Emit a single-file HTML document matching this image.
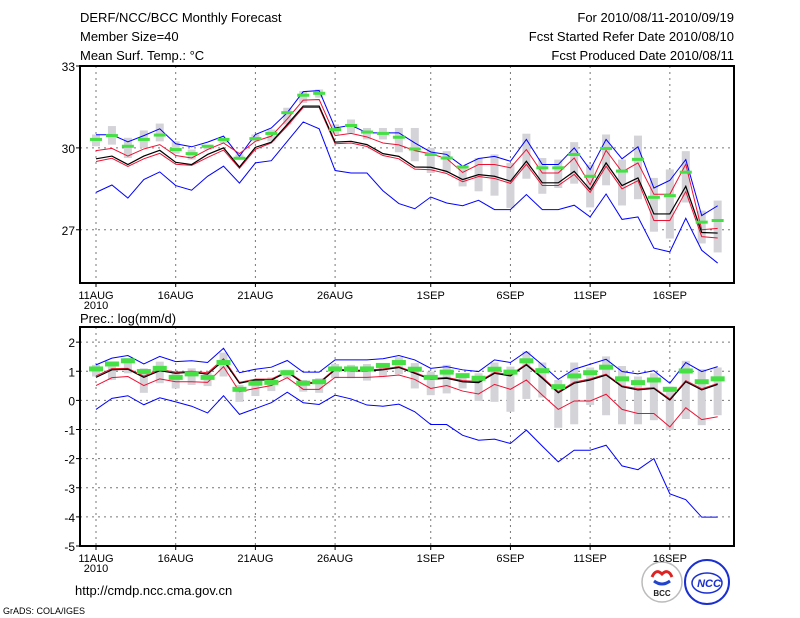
<!DOCTYPE html>
<html><head><meta charset="utf-8"><style>
body{margin:0;background:#fff;}
svg{display:block;font-family:"Liberation Sans",sans-serif;}
</style></head><body>
<svg id="chart" width="800" height="618" viewBox="0 0 800 618">
<g font-size="13" fill="#000">
<text x="80" y="22">DERF/NCC/BCC Monthly Forecast</text>
<text x="80" y="41">Member Size=40</text>
<text x="80" y="60">Mean Surf. Temp.: °C</text>
<text x="734" y="22" text-anchor="end">For 2010/08/11-2010/09/19</text>
<text x="734" y="41" text-anchor="end">Fcst Started Refer Date 2010/08/10</text>
<text x="734" y="60" text-anchor="end">Fcst Produced Date 2010/08/11</text>
<text x="80" y="323">Prec.: log(mm/d)</text>
<text x="75" y="595">http://cmdp.ncc.cma.gov.cn</text>
</g>
<text x="3" y="614" font-size="9">GrADS: COLA/IGES</text>
<g>
<circle cx="662" cy="582" r="20" fill="#fff" stroke="#bbb" stroke-width="1.5"/>
<path d="M652 577 q4 -9 10 -3 q6 -6 10 3" fill="none" stroke="#d22" stroke-width="3"/>
<path d="M654 581 q8 6 16 0" fill="none" stroke="#2244cc" stroke-width="3"/>
<text x="662" y="596" font-size="8" font-weight="bold" text-anchor="middle" fill="#222">BCC</text>
</g>
<g>
<circle cx="707" cy="582" r="22" fill="#fff" stroke="#1a2fd0" stroke-width="2"/>
<ellipse cx="707" cy="583" rx="15" ry="10" fill="none" stroke="#1a2fd0" stroke-width="1.5"/>
<text x="709" y="587" font-size="11" font-weight="bold" font-style="italic" text-anchor="middle" fill="#1a2fd0">NCC</text>
</g>
<g id="top"></g>
<g id="bot"></g>
</svg>
<script>
const dayLabels = ["11AUG","16AUG","21AUG","26AUG","1SEP","6SEP","11SEP","16SEP"];
const dayLabelIdx = [0,5,10,15,21,26,31,36];
const tTicks = [27,30,33];
const tMean = [29.60,29.70,29.39,29.70,29.91,29.47,29.39,29.76,30.00,29.30,30.02,30.21,30.86,31.53,31.53,30.21,30.24,30.12,29.79,29.69,29.30,29.29,29.14,28.84,29.02,28.96,28.78,29.51,28.72,28.72,29.14,28.47,29.45,28.62,28.90,27.58,27.58,28.59,26.90,26.88];
const tRedHi = [29.90,29.98,29.70,29.96,30.12,29.72,29.63,29.94,30.18,29.79,30.24,30.43,31.06,31.75,31.77,30.45,30.53,30.40,30.18,30.11,29.90,29.78,29.61,29.10,29.39,29.39,29.27,29.94,29.08,29.08,29.63,28.65,29.91,29.12,29.45,28.30,28.30,29.40,27.00,27.05];
const tRedLo = [29.50,29.62,29.32,29.60,29.80,29.40,29.36,29.65,29.92,29.25,29.95,30.18,30.80,31.48,31.48,30.15,30.18,30.05,29.72,29.60,29.22,29.20,29.06,28.76,28.95,28.88,28.70,29.40,28.62,28.62,29.03,28.37,29.33,28.50,28.80,27.34,27.34,28.40,26.75,26.70];
const tBlueHi = [30.48,30.48,30.22,30.45,30.70,30.15,30.04,30.21,30.43,29.69,30.49,30.73,31.29,32.06,32.10,30.73,30.83,30.55,30.55,30.55,30.18,29.85,29.76,29.33,29.61,29.69,29.51,30.31,29.39,29.39,30.00,29.20,30.31,29.60,30.04,28.53,28.81,29.57,27.52,27.88];
const tBlueLo = [28.37,28.64,28.16,28.84,29.12,28.62,28.45,28.96,29.33,28.71,29.45,29.53,30.24,30.95,30.70,29.17,29.08,29.08,28.43,27.96,27.77,28.20,27.98,27.88,28.08,27.74,27.74,28.29,27.74,27.74,27.90,27.47,28.31,27.38,27.47,26.33,26.19,27.42,26.25,25.78];
const tObs = [30.31,30.45,30.06,30.31,30.47,29.94,29.79,30.06,30.31,29.62,30.34,30.53,31.29,31.93,32.00,30.67,30.82,30.58,30.53,30.39,29.96,29.76,29.63,29.30,null,null,null,null,29.27,29.27,29.76,28.96,29.98,29.15,29.58,28.19,28.25,29.11,27.28,27.34];
const tBoxHi = [30.49,30.80,30.37,30.64,30.89,30.24,29.94,30.12,30.37,29.76,30.49,30.67,31.47,32.08,32.14,30.86,31.04,30.73,30.73,30.73,30.73,30.00,29.88,29.33,29.63,29.76,29.45,30.52,29.63,29.57,30.21,29.39,30.49,29.57,30.45,28.90,29.21,29.88,27.70,28.07];
const tBoxLo = [30.06,30.12,29.63,30.00,30.24,29.79,29.57,29.94,30.18,29.57,30.24,30.24,30.86,31.65,31.84,30.49,30.55,30.31,30.31,29.84,29.51,29.08,29.08,28.59,28.41,28.25,27.80,28.87,28.32,28.53,28.69,27.82,28.63,27.89,28.12,26.93,26.68,28.00,26.50,26.17];

const pTicks = [-5,-4,-3,-2,-1,0,1,2];
const pMean = [0.79,1.05,1.07,0.79,1.02,0.93,0.97,0.90,1.37,0.59,0.70,0.70,0.97,0.59,0.59,1.05,1.01,1.01,1.05,1.13,0.93,0.72,0.76,0.64,0.61,0.93,0.84,1.22,0.76,0.26,0.59,0.70,0.87,0.47,0.36,0.41,0.01,0.64,0.36,0.55];
const pRedHi = [0.84,1.09,1.10,0.83,1.06,0.97,1.00,0.95,1.43,0.62,0.73,0.73,1.00,0.62,0.62,1.08,1.04,1.04,1.08,1.16,0.96,0.75,0.79,0.68,0.65,0.96,0.88,1.25,0.80,0.30,0.63,0.74,0.90,0.50,0.40,0.44,0.05,0.68,0.40,0.58];
const pRedLo = [0.51,0.78,0.82,0.51,0.74,0.64,0.64,0.62,1.16,0.30,0.41,0.51,0.78,0.38,0.38,0.79,0.79,0.79,0.82,0.87,0.72,0.41,0.51,0.32,0.22,0.55,0.38,0.70,0.18,-0.31,-0.02,-0.02,0.21,-0.31,-0.45,-0.45,-0.91,-0.25,-0.66,-0.56];
const pBlueHi = [1.22,1.45,1.54,1.25,1.51,1.33,1.36,1.30,1.79,0.95,1.07,1.14,1.37,0.97,0.97,1.39,1.39,1.39,1.43,1.54,1.39,1.10,1.16,1.05,0.99,1.39,1.30,1.68,1.22,0.72,1.07,1.24,1.41,0.99,0.91,1.02,0.59,1.30,0.99,1.16];
const pBlueLo = [-0.31,0.07,0.16,-0.15,0.09,-0.05,-0.20,-0.43,0.16,-0.48,-0.28,-0.08,0.28,-0.08,-0.14,0.18,0.05,-0.16,-0.20,-0.13,-0.39,-0.83,-0.83,-1.20,-1.37,-1.33,-1.48,-1.02,-1.57,-2.11,-1.71,-1.71,-1.54,-2.25,-2.38,-2.00,-3.21,-3.41,-4.01,-4.01];
const pObs = [1.08,1.25,1.36,0.99,1.10,0.79,0.91,0.79,1.30,0.38,0.59,0.62,0.95,0.59,0.64,1.08,1.08,1.08,1.20,1.30,1.07,0.79,0.97,0.85,0.76,1.07,0.97,1.36,1.02,0.47,0.84,0.95,1.14,0.74,0.61,0.70,0.38,1.01,0.64,0.74];
const pBoxHi = [1.22,1.16,1.45,1.10,1.33,0.99,1.10,0.95,1.64,0.53,0.70,0.79,1.05,0.70,0.76,1.25,1.22,1.25,1.28,1.48,1.28,0.99,1.22,0.87,0.93,1.30,1.16,1.68,1.30,0.70,1.30,1.13,1.51,1.18,0.82,0.93,0.47,1.36,1.07,1.13];
const pBoxLo = [0.82,0.70,0.93,0.26,0.59,0.41,0.53,0.49,0.82,-0.05,0.15,0.32,0.76,0.30,0.26,0.76,0.76,0.68,0.82,0.90,0.41,0.18,0.24,0.41,-0.02,-0.05,-0.39,0.05,0.10,-0.94,-0.82,-0.16,-0.51,-0.82,-0.82,-0.68,-1.02,-0.64,-0.85,-0.51];

const NS='http://www.w3.org/2000/svg';
function mk(parent,tag,attrs){const e=document.createElementNS(NS,tag);for(const k in attrs)e.setAttribute(k,attrs[k]);parent.appendChild(e);return e;}
const xL=80,xR=734;
function xs(d){return 96+d*15.94;}

function panel(g,cfg){
  const ys=v=>cfg.y0+(cfg.vmax-v)*(cfg.y1-cfg.y0)/(cfg.vmax-cfg.vmin);
  cfg.ticks.forEach(t=>{ if(t>cfg.vmin&&t<cfg.vmax){
    const l=mk(g,'line',{x1:xL,x2:xR,y1:ys(t),y2:ys(t),stroke:'#777','stroke-dasharray':'2,4','stroke-width':1});
    
    }
    const tx=mk(g,'text',{x:xL-5,y:ys(t)+5,'text-anchor':'end','font-size':12});
    tx.textContent=t;
    
    
    mk(g,'line',{x1:xL-4,x2:xL,y1:ys(t),y2:ys(t),stroke:'#000'});
  });
  dayLabelIdx.forEach((d,i)=>{
    const l=mk(g,'line',{x1:xs(d),x2:xs(d),y1:cfg.y0,y2:cfg.y1,stroke:'#777','stroke-dasharray':'2,4'});
    
    
    mk(g,'line',{x1:xs(d),x2:xs(d),y1:cfg.y1,y2:cfg.y1+4,stroke:'#000'});
    const tx=mk(g,'text',{x:xs(d),y:cfg.y1+16,'text-anchor':'middle','font-size':11});
    tx.textContent=dayLabels[i];
    
    
  });
  const yr=mk(g,'text',{x:96,y:cfg.y1+26,'text-anchor':'middle','font-size':11});
  yr.textContent='2010';
  
  
  cfg.boxHi.forEach((h,d)=>{
    const r=mk(g,'rect',{x:xs(d)-4,y:ys(h),width:8,height:Math.max(1,ys(cfg.boxLo[d])-ys(h)),fill:'#d3d3d8'});
    
    
  });
  function line(arr,col,w,name){
    const p=mk(g,'polyline',{points:arr.map((v,d)=>xs(d)+','+ys(v)).join(' '),fill:'none',stroke:col,'stroke-width':w});
    
    
  }
  line(cfg.blueLo,'#0000ff',1,'min-line');
  line(cfg.blueHi,'#0000ff',1,'max-line');
  line(cfg.redLo,'#ee1133',1,'lower-quartile-line');
  line(cfg.redHi,'#ee1133',1,'upper-quartile-line');
  line(cfg.mean,'#000',1.2,'ensemble-mean-line');
  cfg.obs.forEach((v,d)=>{ if(v===null)return;
    const r=mk(g,'rect',{x:xs(d)-cfg.gw/2,y:ys(v)-cfg.gh/2,width:cfg.gw,height:cfg.gh,fill:'#44e044'});
    
    
  });
  const f=mk(g,'rect',{x:xL,y:cfg.y0,width:xR-xL,height:cfg.y1-cfg.y0,fill:'none',stroke:'#000','stroke-width':2});
  
  
}
const topG=document.getElementById('top');


panel(topG,{y0:66,y1:283,vmin:25.05,vmax:33,ticks:tTicks,mean:tMean,redHi:tRedHi,redLo:tRedLo,blueHi:tBlueHi,blueLo:tBlueLo,obs:tObs,boxHi:tBoxHi,boxLo:tBoxLo,gw:12,gh:3});
const botG=document.getElementById('bot');


panel(botG,{y0:327,y1:546,vmin:-5,vmax:2.52,ticks:pTicks,mean:pMean,redHi:pRedHi,redLo:pRedLo,blueHi:pBlueHi,blueLo:pBlueLo,obs:pObs,boxHi:pBoxHi,boxLo:pBoxLo,gw:14,gh:5});
</script>
</body></html>
